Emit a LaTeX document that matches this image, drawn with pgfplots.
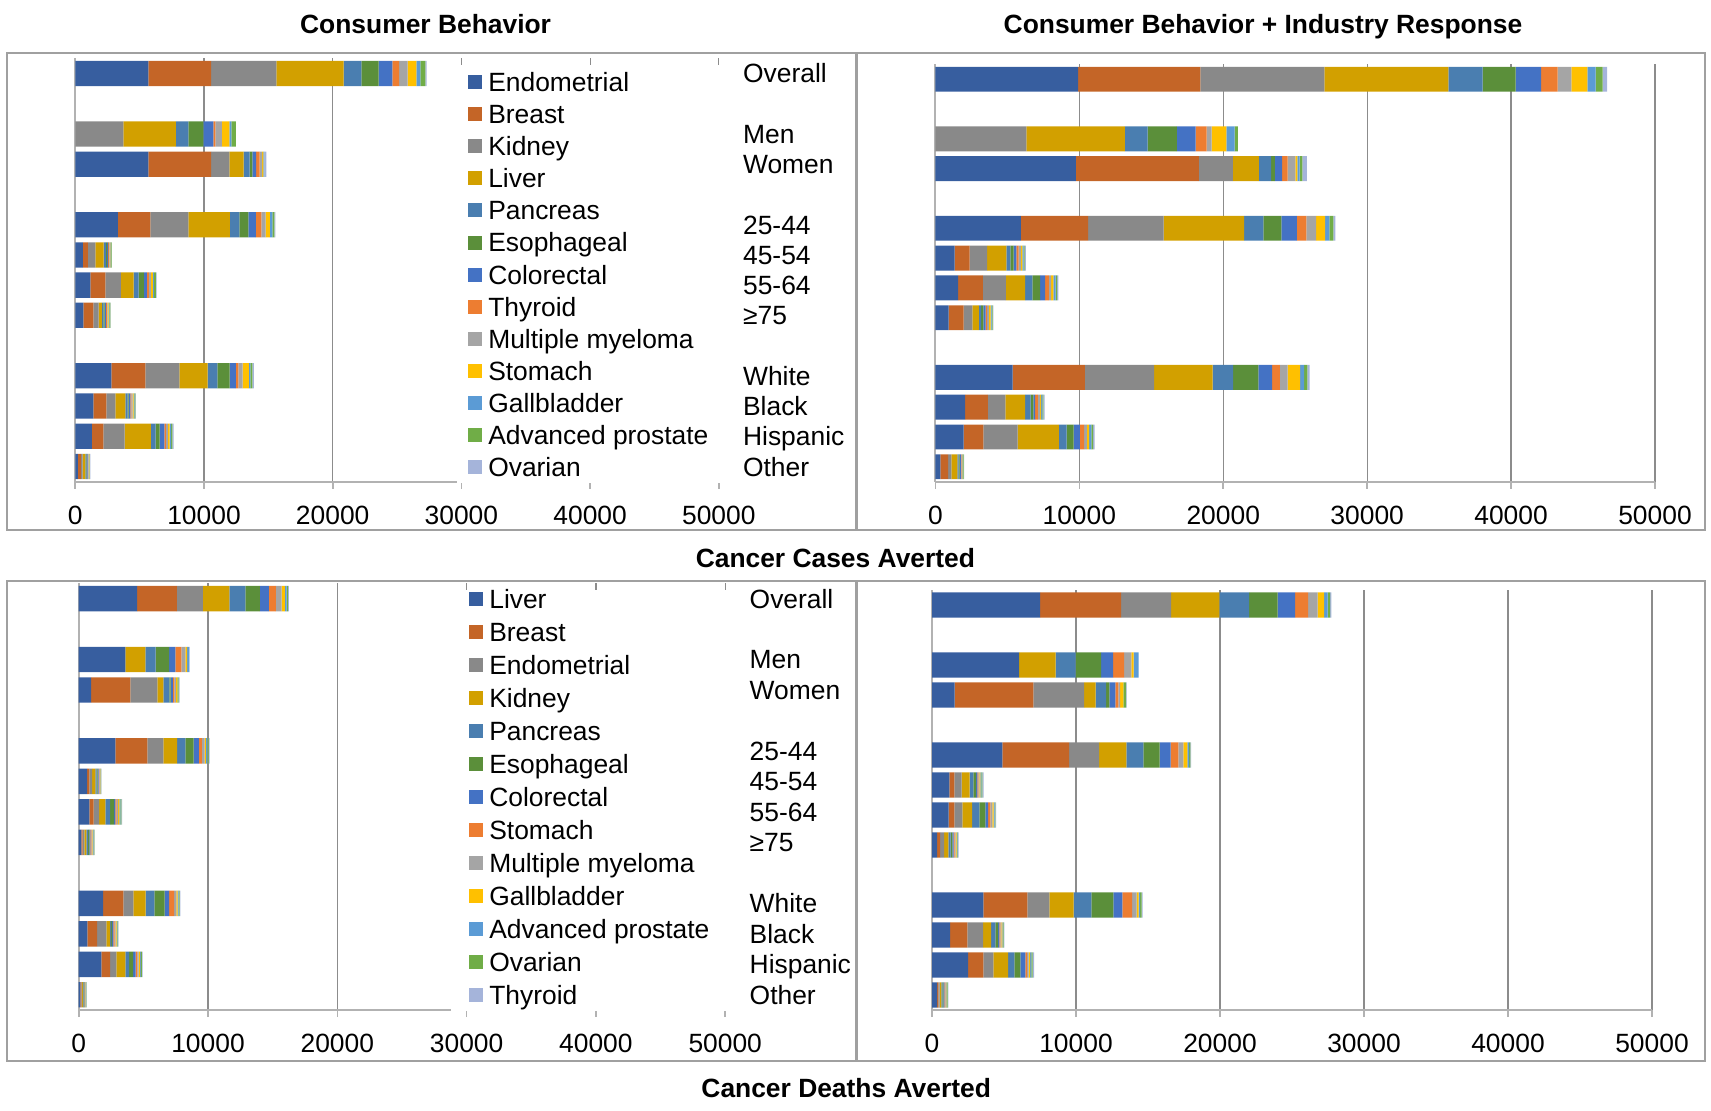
\documentclass[border=0pt]{standalone}
\usepackage{fontspec}
\setmainfont{Liberation Sans}
\usepackage{pgfplots}
\usepackage{pgfplotstable}
\pgfplotsset{compat=1.18}

% segment colours, in stacking order
\definecolor{c1}{RGB}{55,94,159}
\definecolor{c2}{RGB}{196,101,39}
\definecolor{c3}{RGB}{137,137,137}
\definecolor{c4}{RGB}{210,160,0}
\definecolor{c5}{RGB}{74,126,176}
\definecolor{c6}{RGB}{91,143,58}
\definecolor{c7}{RGB}{68,114,196}
\definecolor{c8}{RGB}{237,125,49}
\definecolor{c9}{RGB}{165,165,165}
\definecolor{c10}{RGB}{255,192,0}
\definecolor{c11}{RGB}{91,155,213}
\definecolor{c12}{RGB}{112,173,71}
\definecolor{c13}{RGB}{165,180,218}
\definecolor{framegray}{RGB}{160,160,160}

\newcommand\lbl{\fontsize{13.2}{15}\selectfont}

% rows: 0 Overall, 2 Men, 3 Women, 5 25-44, 6 45-54, 7 55-64, 8 >=75,
%       10 White, 11 Black, 12 Hispanic, 13 Other
% cases: Endometrial Breast Kidney Liver Pancreas Esophageal Colorectal
%        Thyroid Myeloma Stomach Gallbladder Prostate Ovarian
\pgfplotstableread{
r  s1   s2   s3   s4   s5   s6   s7   s8   s9   s10  s11  s12  s13
0  5674 4870 5078 5233 1373 1347 1062 518  674  674  311  389  104
2  0    0    3730 4092 958  1166 777  155  518  570  155  363  0
3  5674 4870 1425 1114 466  207  285  285  181  104  78   0    155
5  3315 2512 2953 3238 725  699  596  414  337  337  181  155  78
6  596  389  570  648  180  90   78   52   70   52   45   45   26
7  1166 1166 1217 984  389  414  233  155  155  155  78   155  52
8  622  777  414  259  104  104  104  78   52   78   52   78   26
10 2797 2642 2642 2202 751  958  492  181  337  492  104  155  130
11 1399 1010 699  777  181  78   130  78   104  78   52   78   52
12 1295 881  1658 2046 363  311  363  130  155  130  104  104  104
13 207  233  130  207  78   52   52   26   52   52   26   26   26
}\casesCB

\pgfplotstableread{
r  s1   s2   s3   s4   s5   s6   s7   s8   s9   s10  s11  s12  s13
0  9917 8500 8615 8615 2374 2297 1761 1149 957  1110 574  498  306
2  0    0    6318 6854 1570 2029 1302 766  345  1034 574  230  0
3  9764 8539 2374 1800 842  268  498  383  536  153  150  190  306
5  5935 4671 5246 5590 1340 1264 1072 651  689  613  306  268  153
6  1340 1034 1225 1340 268  230  191  153  153  115  77   77   77
7  1570 1723 1608 1340 498  536  345  268  153  153  153  115  77
8  919  1034 613  459  153  153  153  115  115  115  77   77   38
10 5361 5016 4825 4059 1417 1761 957  536  536  881  268  230  153
11 2068 1570 1225 1378 383  191  115  191  153  77   77   77   77
12 1953 1378 2374 2872 536  498  421  306  191  153  153  115  115
13 345  536  230  421  77   77   77   38   38   38   38   38   38
}\casesCBIR

% deaths: Liver Breast Endometrial Kidney Pancreas Esophageal Colorectal
%         Stomach Myeloma Gallbladder Prostate Ovarian Thyroid
\pgfplotstableread{
r  s1   s2   s3   s4   s5   s6   s7   s8   s9   s10  s11  s12  s13
0  4510 3092 2010 2036 1237 1134 696  541  438  258  129  103  77
2  3608 0    0    1546 799  1031 490  464  309  129  180  0    30
3  953  3041 2087 464  464  103  180  103  129  103  0    103  77
5  2835 2474 1237 1057 644  644  412  232  206  103  103  103  77
6  644  180  206  258  103  77   77   52   52   26   26   26   26
7  825  335  412  490  361  309  103  103  103  103  77   77   52
8  206  103  129  155  129  103  77   77   77   52   52   52   26
10 1881 1572 773  954  670  799  335  387  180  103  77   77   52
11 670  747  722  283  77   77   103  103  77   77   52   52   26
12 1752 670  490  696  283  309  206  129  103  103  77   77   52
13 129  77   52   77   52   52   26   26   26   26   26   26   13
}\deathsCB

\pgfplotstableread{
r  s1   s2   s3   s4   s5   s6   s7   s8   s9   s10  s11  s12  s13
0  7500 5625 3472 3356 2060 1991 1204 903  671  440  255  162  93
2  6042 0    0    2546 1389 1759 833  764  509  162  347  0    0
3  1574 5463 3519 810  718  231  417  208  116  231  0    185  50
5  4885 4630 2084 1898 1181 1134 764  532  347  278  116  93   46
6  1204 347  509  556  255  185  93   69   69   69   69   69   93
7  1157 394  556  671  509  417  185  162  139  93   69   46   46
8  347  208  278  301  162  116  93   69   69   69   46   46   46
10 3565 3056 1528 1690 1227 1528 625  671  324  139  93   116  69
11 1250 1204 1088 556  301  185  93   69   69   69   46   46   46
12 2500 1065 694  1019 440  417  347  116  116  93   93   93   93
13 347  93   93   116  69   69   69   46   46   46   46   46   46
}\deathsCBIR

% thirteen stacked segments from one table
\newcommand\stackbars[1]{%
  \addplot[fill=c1,draw=none]  table[x=s1,y=r]{#1};
  \addplot[fill=c2,draw=none]  table[x=s2,y=r]{#1};
  \addplot[fill=c3,draw=none]  table[x=s3,y=r]{#1};
  \addplot[fill=c4,draw=none]  table[x=s4,y=r]{#1};
  \addplot[fill=c5,draw=none]  table[x=s5,y=r]{#1};
  \addplot[fill=c6,draw=none]  table[x=s6,y=r]{#1};
  \addplot[fill=c7,draw=none]  table[x=s7,y=r]{#1};
  \addplot[fill=c8,draw=none]  table[x=s8,y=r]{#1};
  \addplot[fill=c9,draw=none]  table[x=s9,y=r]{#1};
  \addplot[fill=c10,draw=none] table[x=s10,y=r]{#1};
  \addplot[fill=c11,draw=none] table[x=s11,y=r]{#1};
  \addplot[fill=c12,draw=none] table[x=s12,y=r]{#1};
  \addplot[fill=c13,draw=none] table[x=s13,y=r]{#1};
}

% group names beside the left-hand panels; one y unit = one bar row
\tikzset{grp/.style={anchor=west,inner sep=0pt,text height=9.46pt,text depth=0pt,font=\lbl}}
\newcommand\grouplabels{%
  \node[grp] at (0,0.5)  {Overall};
  \node[grp] at (0,2.5)  {Men};
  \node[grp] at (0,3.5)  {Women};
  \node[grp] at (0,5.5)  {25-44};
  \node[grp] at (0,6.5)  {45-54};
  \node[grp] at (0,7.5)  {55-64};
  \node[grp] at (0,8.5)  {≥75};
  \node[grp] at (0,10.5) {White};
  \node[grp] at (0,11.5) {Black};
  \node[grp] at (0,12.5) {Hispanic};
  \node[grp] at (0,13.5) {Other};
}

\pgfplotsset{
  panel/.style={
    scale only axis, clip=false,
    anchor=south west,
    xbar stacked, bar width=0.835,
    xmin=0, xmax=50000, ymin=-0.5, ymax=13.5, y dir=reverse,
    xtick={0,10000,20000,30000,40000,50000}, ytick=\empty,
    scaled x ticks=false,
    /pgf/number format/1000 sep={},
    /pgf/number format/assume math mode=true,
    axis x line*=bottom, axis y line*=left,
    xmajorgrids, major grid style={black!45, line width=0.6pt},
    axis line style={black!30, line width=1pt},
    x tick style={black!30, line width=0.8pt},
    tick align=outside, major tick length=3.5pt,
    tick label style={font=\lbl},
    xticklabel style={yshift=-5pt},
    legend cell align=left,
    legend image code/.code={\fill[##1] (0pt,-3.5pt) rectangle (7pt,3.5pt);},
  },
  leg/.style 2 args={
    legend style={at={(#1,#2)}, anchor=north west,
      draw=none, fill=none, inner sep=0pt, outer sep=0pt,
      row sep=0pt, column sep=3pt, font=\lbl},
  },
}

\begin{document}
\begin{tikzpicture}
\useasboundingbox (0,0) rectangle (855.5pt,555pt);

% ---- cancer cases, consumer behaviour ----
\begin{axis}[panel, at={(37.65pt,314.15pt)}, width=321.75pt, height=211.7pt,
  leg={0.6107}{0.9818},
  legend style={nodes={inner sep=0pt, text height=12.73pt, text depth=3.32pt}},
  legend entries={Endometrial,Breast,Kidney,Liver,Pancreas,Esophageal,Colorectal,
    Thyroid,Multiple myeloma,Stomach,Gallbladder,Advanced prostate,Ovarian}]
\stackbars{\casesCB}
\fill[white] (axis cs:29640,-0.28) rectangle (axis cs:60350,13.545);
\end{axis}

% ---- cancer cases, consumer behaviour + industry response ----
\begin{axis}[panel, at={(467.7pt,314.15pt)}, width=359.8pt, height=208.7pt]
\stackbars{\casesCBIR}
\end{axis}

% ---- cancer deaths, consumer behaviour ----
\begin{axis}[panel, at={(39.35pt,50pt)}, width=323.25pt, height=213.35pt,
  leg={0.6042}{1.0025},
  legend style={nodes={inner sep=0pt, text height=12.98pt, text depth=3.52pt}},
  legend entries={Liver,Breast,Endometrial,Kidney,Pancreas,Esophageal,Colorectal,
    Stomach,Multiple myeloma,Gallbladder,Advanced prostate,Ovarian,Thyroid}]
\stackbars{\deathsCB}
\fill[white] (axis cs:28770,-0.28) rectangle (axis cs:59810,13.545);
\end{axis}

% ---- cancer deaths, consumer behaviour + industry response ----
\begin{axis}[panel, at={(466pt,50pt)}, width=360pt, height=210pt]
\stackbars{\deathsCBIR}
\end{axis}

% group names
\begin{scope}[shift={(371.35pt,525.85pt)}, x=1pt, y=-15.1215pt]
\grouplabels
\end{scope}
\begin{scope}[shift={(374.65pt,263.35pt)}, x=1pt, y=-15.2393pt]
\grouplabels
\end{scope}

% panel frames
\draw[framegray, line width=1pt] (3.25pt,290pt) rectangle (428pt,528.5pt);
\draw[framegray, line width=1pt] (428.4pt,290pt) rectangle (852.5pt,528.5pt);
\draw[framegray, line width=1pt] (3.25pt,24.65pt) rectangle (428pt,264.65pt);
\draw[framegray, line width=1pt] (428.4pt,24.65pt) rectangle (852.5pt,264.65pt);

% titles
\node[anchor=base, inner sep=0pt, font=\lbl\bfseries] at (212.8pt,538.25pt) {Consumer Behavior};
\node[anchor=base, inner sep=0pt, font=\lbl\bfseries] at (631.5pt,538.25pt) {Consumer Behavior + Industry Response};
\node[anchor=base, inner sep=0pt, font=\lbl\bfseries] at (417.7pt,271.15pt) {Cancer Cases Averted};
\node[anchor=base, inner sep=0pt, font=\lbl\bfseries] at (423.1pt,6.25pt) {Cancer Deaths Averted};
\end{tikzpicture}
\end{document}
